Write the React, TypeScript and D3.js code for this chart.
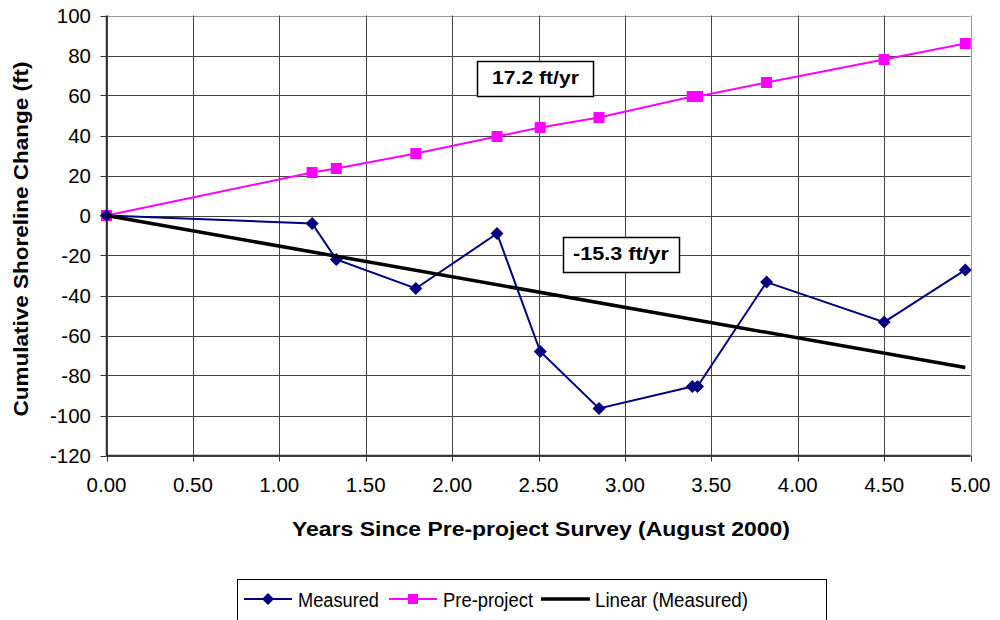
import React from "react";
import * as d3 from "d3";

const years = [0, 1.19, 1.33, 1.79, 2.26, 2.51, 2.85, 3.39, 3.42, 3.82, 4.5, 4.97];
const measured = [0, -4, -22, -36.5, -9, -68, -96.5, -85.5, -85.5, -33.3, -53.3, -27.2];
const preProject = [0, 21.5, 23.5, 31, 39.5, 44, 49, 59.5, 59.5, 66.5, 78, 86];
const trendSlope = -15.3;
const xTicks = [0, 0.5, 1, 1.5, 2, 2.5, 3, 3.5, 4, 4.5, 5];
const yTicks = [100, 80, 60, 40, 20, 0, -20, -40, -60, -80, -100, -120];
const labelPre = "17.2 ft/yr";
const labelMeas = "-15.3 ft/yr";

const FONT = "'Liberation Sans', Arial, sans-serif";

export default function App() {
  const left = 106.5, right = 970.5, top = 15.5, bottom = 455.5;
  const x = d3.scaleLinear().domain([0, 5]).range([left, right]);
  const y = d3.scaleLinear().domain([-120, 100]).range([bottom, top]);

  const measLine = d3.line<number>().x((_, i) => x(years[i])).y((d) => y(d))(measured) || "";
  const preLine = d3.line<number>().x((_, i) => x(years[i])).y((d) => y(d))(preProject) || "";
  const xEnd = years[years.length - 1];
  const trend = d3.line<number>().x((d) => x(d)).y((d) => y(trendSlope * d))([0, xEnd]) || "";

  const diamond = (cx: number, cy: number, r: number) =>
    `M${cx},${cy - r}L${cx + r},${cy}L${cx},${cy + r}L${cx - r},${cy}Z`;

  return (
    <svg width={1000} height={620} style={{ position: "absolute", left: 0, top: 0, background: "#fff" }}>
      <rect x={0} y={0} width={1000} height={620} fill="#fff" />
      {/* grid */}
      {yTicks.map((t) => (
        <line key={"gy" + t} x1={left} x2={right} y1={Math.round(y(t)) + 0.5} y2={Math.round(y(t)) + 0.5}
          stroke={t === 100 ? "#999" : "#444"} strokeWidth={1} />
      ))}
      {xTicks.map((t) => (
        <line key={"gx" + t} y1={top} y2={bottom} x1={Math.round(x(t)) + 0.5} x2={Math.round(x(t)) + 0.5}
          stroke={t === 5 ? "#999" : "#444"} strokeWidth={1} />
      ))}
      {/* axes */}
      <line x1={left} x2={left} y1={top} y2={bottom + 1} stroke="#333" strokeWidth={1.5} />
      <line x1={left} x2={right} y1={bottom} y2={bottom} stroke="#333" strokeWidth={1.5} />
      {yTicks.map((t) => (
        <g key={"ty" + t}>
          <line x1={left - 6} x2={left} y1={Math.round(y(t)) + 0.5} y2={Math.round(y(t)) + 0.5} stroke="#333" />
          <text x={91} y={y(t)} dy="0.36em" textAnchor="end" fontFamily={FONT} fontSize={20.5}>{t}</text>
        </g>
      ))}
      {xTicks.map((t) => (
        <g key={"tx" + t}>
          <line y1={bottom} y2={bottom + 6} x1={Math.round(x(t)) + 0.5} x2={Math.round(x(t)) + 0.5} stroke="#333" />
          <text x={x(t)} y={485} dy="0.36em" textAnchor="middle" fontFamily={FONT} fontSize={20.5}>{t.toFixed(2)}</text>
        </g>
      ))}
      <text x={292} y={535.5} fontFamily={FONT} fontSize={21} fontWeight="bold"
        textLength={498} lengthAdjust="spacingAndGlyphs">
        Years Since Pre-project Survey (August 2000)
      </text>
      <text transform="translate(28,416.5) rotate(-90)" fontFamily={FONT} fontSize={21} fontWeight="bold"
        textLength={355} lengthAdjust="spacingAndGlyphs">
        Cumulative Shoreline Change (ft)
      </text>

      {/* series */}
      <path d={preLine} fill="none" stroke="#FF00FF" strokeWidth={2} />
      {preProject.map((v, i) => (
        <rect key={"p" + i} x={x(years[i]) - 5.5} y={y(v) - 5.5} width={11} height={11} fill="#FF00FF" />
      ))}
      <path d={measLine} fill="none" stroke="#000080" strokeWidth={2} />
      {measured.map((v, i) => (
        <path key={"m" + i} d={diamond(x(years[i]), y(v), 6.5)} fill="#000080" />
      ))}
      <path d={trend} fill="none" stroke="#000" strokeWidth={3.5} />

      {/* labels */}
      <rect x={477.5} y={61.5} width={116} height={35} fill="#fff" stroke="#000" strokeWidth={1.5} />
      <text x={492} y={84} fontFamily={FONT} fontSize={18.5} fontWeight="bold"
        textLength={87} lengthAdjust="spacingAndGlyphs">{labelPre}</text>
      <rect x={563.5} y={237.5} width={116} height={35} fill="#fff" stroke="#000" strokeWidth={1.5} />
      <text x={573} y={260} fontFamily={FONT} fontSize={18.5} fontWeight="bold"
        textLength={96} lengthAdjust="spacingAndGlyphs">{labelMeas}</text>

      {/* legend */}
      <rect x={237.5} y={579.5} width={589} height={50} fill="#fff" stroke="#000" strokeWidth={1} />
      <line x1={244} x2={292} y1={599} y2={599} stroke="#000080" strokeWidth={2} />
      <path d={diamond(268, 599, 6)} fill="#000080" />
      <text x={298} y={606.5} fontFamily={FONT} fontSize={20.5}
        textLength={81} lengthAdjust="spacingAndGlyphs">Measured</text>
      <line x1={389} x2={437} y1={599} y2={599} stroke="#FF00FF" strokeWidth={2} />
      <rect x={408} y={594} width={10} height={10} fill="#FF00FF" />
      <text x={443} y={606.5} fontFamily={FONT} fontSize={20.5}
        textLength={90} lengthAdjust="spacingAndGlyphs">Pre-project</text>
      <line x1={541} x2={590} y1={599} y2={599} stroke="#000" strokeWidth={3.5} />
      <text x={595} y={606.5} fontFamily={FONT} fontSize={20.5}
        textLength={153} lengthAdjust="spacingAndGlyphs">Linear (Measured)</text>
    </svg>
  );
}
